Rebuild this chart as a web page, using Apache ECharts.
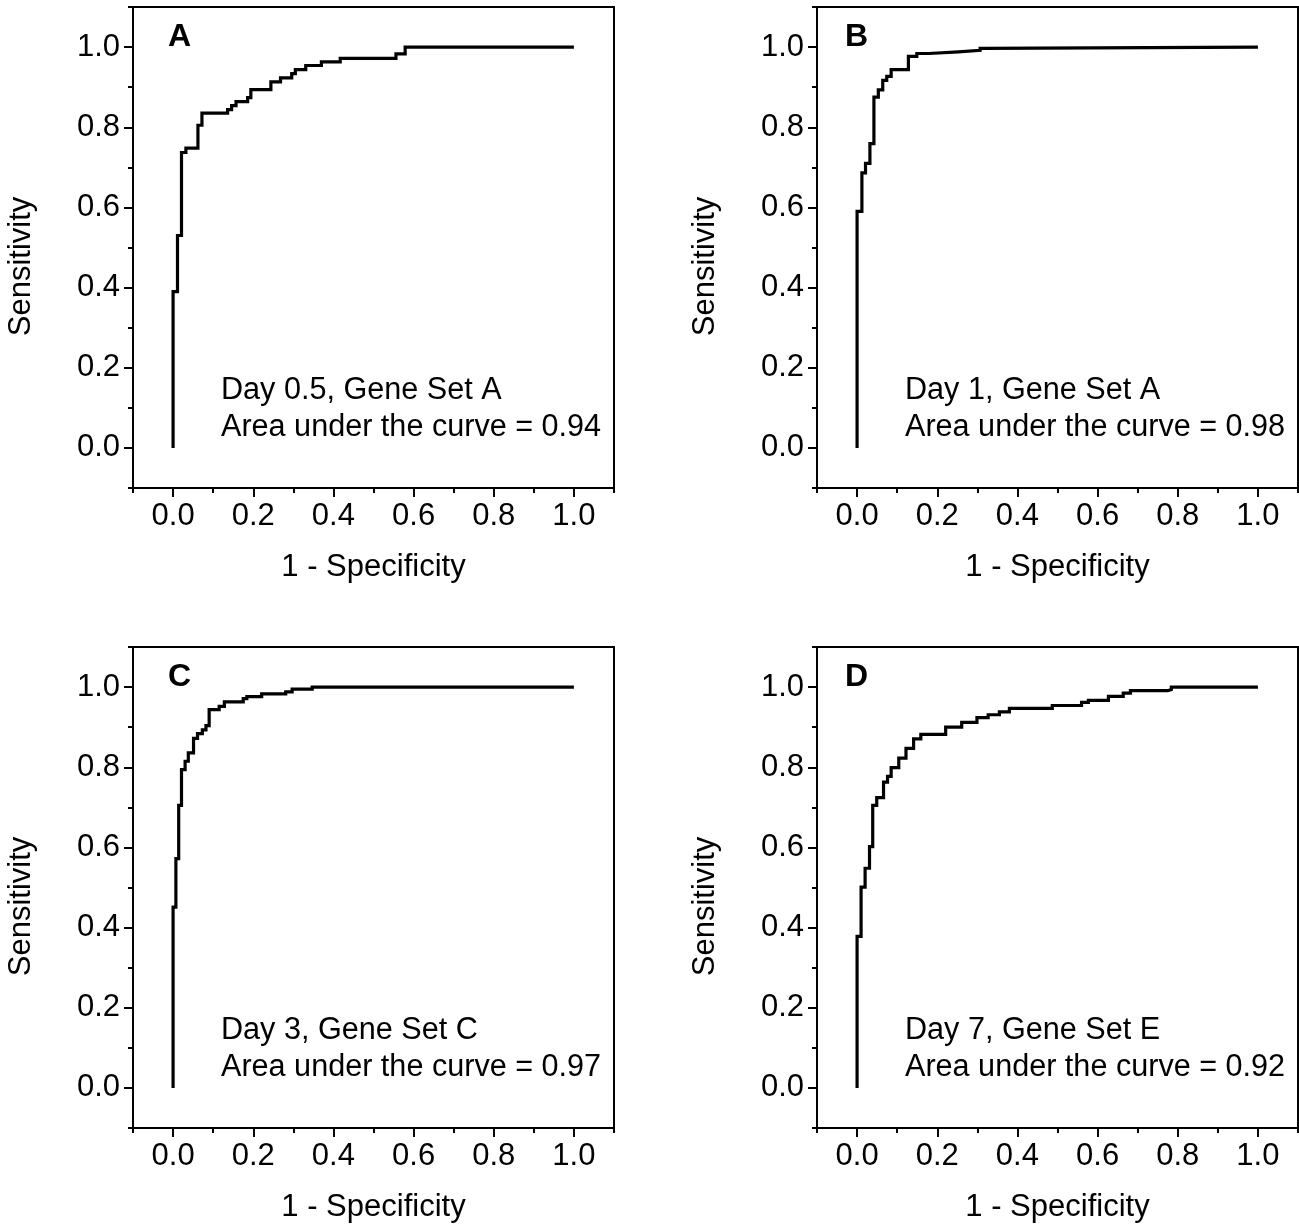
<!DOCTYPE html>
<html>
<head>
<meta charset="utf-8">
<script src="https://cdn.jsdelivr.net/npm/echarts@6/dist/echarts.min.js"></script>
<style>html,body{margin:0;padding:0;background:#fff}#chart{width:1299px;height:1224px}</style>
</head>
<body>
<div id="chart"></div>
<script>
// ---- data ----
const panelLetters = ['A', 'B', 'C', 'D'];
const panelDescriptions = ['Day 0.5, Gene Set A', 'Day 1, Gene Set A', 'Day 3, Gene Set C', 'Day 7, Gene Set E'];
const aucValues = ['0.94', '0.98', '0.97', '0.92'];
const majorTicks = [0, 0.2, 0.4, 0.6, 0.8, 1.0];
const minorTicks = [-0.1, 0.1, 0.3, 0.5, 0.7, 0.9, 1.1];
const xAxisTitle = '1 - Specificity';
const yAxisTitle = 'Sensitivity';

// ROC curve corner points (1 - specificity, sensitivity); curve steps horizontally then vertically
const fprA = [0, 0, 0.011, 0.021, 0.032, 0.062, 0.072, 0.136, 0.146, 0.157, 0.186, 0.194, 0.244, 0.268, 0.296, 0.305, 0.331, 0.370, 0.417, 0.556, 0.579, 1.0];
const tprA = [0, 0.39, 0.53, 0.737, 0.748, 0.805, 0.835, 0.844, 0.854, 0.864, 0.874, 0.894, 0.913, 0.923, 0.934, 0.944, 0.954, 0.963, 0.972, 0.983, 1.0, 1.0];

const fprB = [0, 0, 0.012, 0.021, 0.032, 0.042, 0.053, 0.064, 0.074, 0.085, 0.128, 0.149, 0.179, 0.253, 0.307, 0.317, 1.0];
const tprB = [0, 0.59, 0.686, 0.71, 0.759, 0.875, 0.893, 0.917, 0.927, 0.944, 0.977, 0.984, 0.988, 0.992, 0.997, 1.0, 1.0];

const fprC = [0, 0, 0.007, 0.014, 0.021, 0.030, 0.038, 0.051, 0.061, 0.073, 0.082, 0.090, 0.115, 0.128, 0.175, 0.184, 0.221, 0.281, 0.297, 0.347, 1.0];
const tprC = [0, 0.451, 0.572, 0.705, 0.794, 0.815, 0.836, 0.872, 0.884, 0.893, 0.904, 0.944, 0.952, 0.963, 0.971, 0.976, 0.983, 0.988, 0.995, 1.0, 1.0];

const fprD = [0, 0, 0.010, 0.020, 0.031, 0.039, 0.049, 0.066, 0.076, 0.085, 0.104, 0.122, 0.141, 0.159, 0.221, 0.261, 0.299, 0.327, 0.355, 0.380, 0.487, 0.560, 0.577, 0.627, 0.664, 0.682, 0.775, 0.784, 1.0];
const tprD = [0, 0.378, 0.501, 0.548, 0.602, 0.705, 0.724, 0.763, 0.777, 0.799, 0.823, 0.847, 0.871, 0.882, 0.9, 0.912, 0.924, 0.931, 0.938, 0.947, 0.954, 0.962, 0.967, 0.977, 0.985, 0.991, 0.994, 1.0, 1.0];

const fprList = [fprA, fprB, fprC, fprD];
const tprList = [tprA, tprB, tprC, tprD];

// ---- layout ----
const gridPos = [[133, 7], [817, 7], [133, 647], [817, 647]];
const gridSize = 481;
const letterOffset = [35, 28, 35, 28];
const FONT = '"Liberation Sans", Arial, Helvetica, sans-serif';
const FS = 31;

const option = {
  backgroundColor: '#fff',
  animation: false,
  grid: [], xAxis: [], yAxis: [], series: [], graphic: []
};

const tickStyle = { color: '#000', width: 2 };
const labelStyle = { fontSize: FS, color: '#000', fontFamily: FONT };

panelLetters.forEach((letter, i) => {
  const [L, T] = gridPos[i];
  option.grid.push({
    left: L, top: T, width: gridSize, height: gridSize,
    show: true, borderColor: '#000', borderWidth: 2, backgroundColor: 'transparent'
  });
  // main x axis (major ticks + labels)
  option.xAxis.push({
    type: 'value', gridIndex: i, min: -0.1, max: 1.1, position: 'bottom',
    name: xAxisTitle, nameLocation: 'middle', nameGap: 64,
    nameTextStyle: { fontSize: FS, color: '#000', fontFamily: FONT },
    axisLine: { show: true, onZero: false, lineStyle: tickStyle },
    axisTick: { show: true, customValues: majorTicks, length: 9, lineStyle: tickStyle },
    axisLabel: Object.assign({ show: true, customValues: majorTicks, margin: 13, formatter: v => v.toFixed(1) }, labelStyle),
    splitLine: { show: false }
  });
  // minor x ticks
  option.xAxis.push({
    type: 'value', gridIndex: i, min: -0.1, max: 1.1, position: 'bottom',
    axisLine: { show: false, onZero: false },
    axisTick: { show: true, customValues: minorTicks, length: 5, lineStyle: tickStyle },
    axisLabel: { show: false }, splitLine: { show: false }
  });
  // main y axis
  option.yAxis.push({
    type: 'value', gridIndex: i, min: -0.1, max: 1.1, position: 'left',
    name: yAxisTitle, nameLocation: 'middle', nameGap: 96,
    nameTextStyle: { fontSize: FS, color: '#000', fontFamily: FONT, padding: [0, 38, 0, 0] },
    axisLine: { show: true, onZero: false, lineStyle: tickStyle },
    axisTick: { show: true, customValues: majorTicks, length: 9, lineStyle: tickStyle },
    axisLabel: Object.assign({ show: true, customValues: majorTicks, margin: 13, formatter: v => v.toFixed(1) }, labelStyle),
    splitLine: { show: false }
  });
  // minor y ticks
  option.yAxis.push({
    type: 'value', gridIndex: i, min: -0.1, max: 1.1, position: 'left',
    axisLine: { show: false, onZero: false },
    axisTick: { show: true, customValues: minorTicks, length: 5, lineStyle: tickStyle },
    axisLabel: { show: false }, splitLine: { show: false }
  });
  option.series.push({
    type: 'line', xAxisIndex: 2 * i, yAxisIndex: 2 * i,
    data: fprList[i].map((x, k) => [x, tprList[i][k]]),
    step: 'end', symbol: 'none', showSymbol: false, silent: true,
    lineStyle: { color: '#000', width: 3.2, join: 'miter', cap: 'butt' }
  });
  option.graphic.push({
    type: 'text', x: L + letterOffset[i], y: T + 30.3, silent: true,
    style: { text: letter, fontSize: 32, fontWeight: 'bold', fontFamily: FONT, fill: '#000', verticalAlign: 'middle', align: 'left' }
  });
  option.graphic.push({
    type: 'text', x: L + 88, y: T + 365.3, silent: true,
    style: {
      text: panelDescriptions[i] + '\nArea under the curve = ' + aucValues[i],
      fontSize: 30.6, fontFamily: FONT, fill: '#000', lineHeight: 37, verticalAlign: 'top', align: 'left'
    }
  });
});

const chart = echarts.init(document.getElementById('chart'), null, { renderer: 'canvas' });
chart.setOption(option);
</script>
</body>
</html>
